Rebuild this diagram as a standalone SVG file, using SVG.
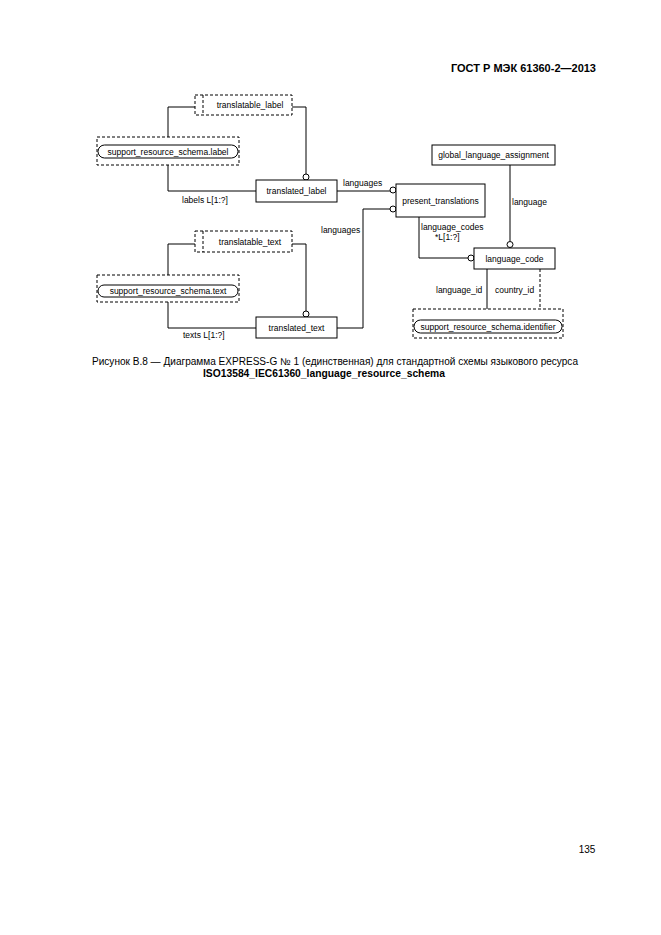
<svg xmlns="http://www.w3.org/2000/svg" width="661" height="935" viewBox="0 0 661 935">
<style>
.bg{fill:#fff}
.box{fill:#fff;stroke:#000;stroke-width:1}
.dash{fill:none;stroke:#000;stroke-width:1;stroke-dasharray:3 2}
.inner{fill:none;stroke:#000;stroke-width:1}
.ln{fill:none;stroke:#000;stroke-width:1}
.dl{fill:none;stroke:#000;stroke-width:1;stroke-dasharray:3 2}
.circ{fill:#fff;stroke:#000;stroke-width:1}
.t{font-family:"Liberation Sans",Arial,sans-serif;font-size:8.5px;fill:#000}
.c{text-anchor:middle}
.cap{font-family:"Liberation Sans",Arial,sans-serif;font-size:10px;fill:#000;text-anchor:middle}
.hdr{font-family:"Liberation Sans",Arial,sans-serif;font-size:11px;font-weight:bold;fill:#000}
</style>
<rect class="bg" x="0" y="0" width="661" height="935"/>
<text class="hdr" x="596" y="72" text-anchor="end">ГОСТ Р МЭК 61360-2—2013</text>

<g id="connectors">
  <polyline class="ln" points="195,107 168,107 168,137"/>
  <polyline class="ln" points="168,165 168,191 256,191"/>
  <polyline class="ln" points="292,107 306,107 306,174"/>
  <circle class="circ" cx="306" cy="177" r="3"/>
  <polyline class="ln" points="337,191 390,191"/>
  <circle class="circ" cx="393" cy="190" r="3"/>
  <polyline class="ln" points="337,328 363,328 363,209 390,209"/>
  <circle class="circ" cx="393" cy="209" r="3"/>
  <polyline class="ln" points="195,244 168,244 168,275"/>
  <polyline class="ln" points="168,302 168,328 256,328"/>
  <polyline class="ln" points="292,244 306,244 306,311"/>
  <circle class="circ" cx="306" cy="314" r="3"/>
  <polyline class="ln" points="510,165 510,241"/>
  <circle class="circ" cx="510" cy="244.5" r="3"/>
  <polyline class="ln" points="419,217 419,258 468,258"/>
  <circle class="circ" cx="471" cy="258" r="3"/>
  <line class="ln" x1="487" y1="269" x2="487" y2="309"/>
  <line class="dl" x1="540" y1="269" x2="540" y2="309"/>
  <text class="t" x="182" y="203">labels L[1:?]</text>
  <text class="t" x="183" y="338">texts L[1:?]</text>
  <text class="t" x="343" y="186">languages</text>
  <text class="t" x="321" y="233">languages</text>
  <text class="t" x="421" y="229.5">language_codes</text>
  <text class="t" x="435" y="240">*L[1:?]</text>
  <text class="t" x="512" y="205">language</text>
  <text class="t" x="436" y="293">language_id</text>
  <text class="t" x="495" y="293">country_id</text>
</g>

<g id="translatable_label">
  <rect class="dash" x="195" y="95" width="97" height="20"/>
  <line class="dl" x1="203" y1="95" x2="203" y2="115"/>
  <text class="t c" x="250" y="108">translatable_label</text>
</g>
<g id="support_resource_schema.label">
  <rect class="dash" x="97" y="137" width="142" height="28"/>
  <rect class="inner" x="98" y="145" width="140" height="13" rx="6.5" ry="6.5"/>
  <text class="t c" x="168" y="154.5">support_resource_schema.label</text>
</g>
<g id="translated_label">
  <rect class="box" x="256" y="180" width="81" height="22"/>
  <text class="t c" x="296.5" y="194">translated_label</text>
</g>
<g id="present_translations">
  <rect class="box" x="396" y="184" width="89" height="33"/>
  <text class="t c" x="440.5" y="203.5">present_translations</text>
</g>
<g id="global_language_assignment">
  <rect class="box" x="432" y="145" width="123" height="20"/>
  <text class="t c" x="493.5" y="158">global_language_assignment</text>
</g>
<g id="language_code">
  <rect class="box" x="474" y="248" width="81" height="21"/>
  <text class="t c" x="514.5" y="261.5">language_code</text>
</g>
<g id="translatable_text">
  <rect class="dash" x="195" y="231" width="97" height="21"/>
  <line class="dl" x1="203" y1="231" x2="203" y2="252"/>
  <text class="t c" x="250" y="244.5">translatable_text</text>
</g>
<g id="support_resource_schema.text">
  <rect class="dash" x="97" y="275" width="142" height="27"/>
  <rect class="inner" x="98" y="285" width="140" height="12" rx="6" ry="6"/>
  <text class="t c" x="168" y="294">support_resource_schema.text</text>
</g>
<g id="translated_text">
  <rect class="box" x="256" y="317" width="81" height="21"/>
  <text class="t c" x="296.5" y="330.5">translated_text</text>
</g>
<g id="support_resource_schema.identifier">
  <rect class="dash" x="413" y="309" width="150" height="29"/>
  <rect class="inner" x="414" y="320" width="148" height="13" rx="6.5" ry="6.5"/>
  <text class="t c" x="488" y="329.5">support_resource_schema.identifier</text>
</g>

<text class="cap" x="335" y="365" textLength="486" lengthAdjust="spacingAndGlyphs">Рисунок В.8 — Диаграмма EXPRESS-G № 1 (единственная) для стандартной схемы языкового ресурса</text>
<text class="cap" x="324" y="377" font-weight="bold" textLength="242" lengthAdjust="spacingAndGlyphs">ISO13584_IEC61360_language_resource_schema</text>
<text class="cap" x="587" y="853">135</text>
</svg>
